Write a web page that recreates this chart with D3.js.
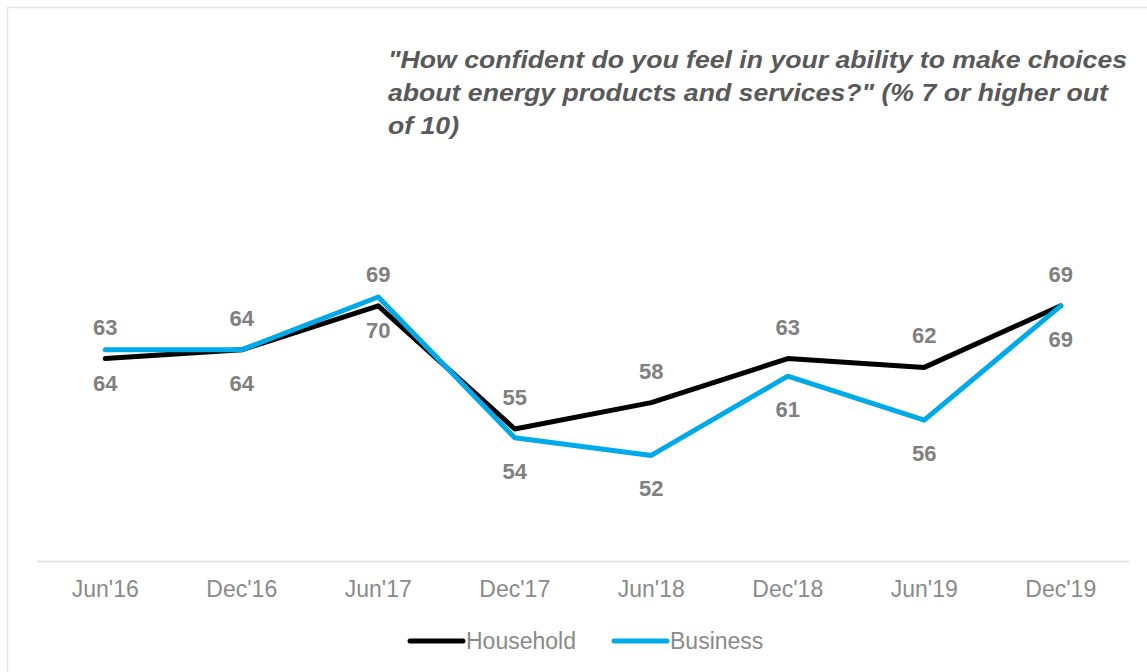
<!DOCTYPE html>
<html>
<head>
<meta charset="utf-8">
<script src="https://cdn.jsdelivr.net/npm/d3@7"></script>
<style>
  html, body { margin: 0; padding: 0; background: #fff; }
  svg { display: block; font-family: "Liberation Sans", Arial, sans-serif; }
</style>
</head>
<body>
<svg id="chart" width="1147" height="672"></svg>
<script>
// Survey waves
const periods = ["Jun'16", "Dec'16", "Jun'17", "Dec'17", "Jun'18", "Dec'18", "Jun'19", "Dec'19"];
// % rating 7 or higher out of 10
const household = [63, 64, 69, 55, 58, 63, 62, 69];
const business  = [64, 64, 70, 54, 52, 61, 56, 69];
const seriesNames = ["Household", "Business"];
const seriesColors = ["#000000", "#00a9e8"];
const titleLines = [
  "\"How confident do you feel in your ability to make choices",
  "about energy products and services?\" (% 7 or higher out",
  "of 10)"
];

const svg = d3.select("#chart");

// outer frame
svg.append("rect")
  .attr("x", 7.5).attr("y", 7.5)
  .attr("width", 1160).attr("height", 700)
  .attr("fill", "none").attr("stroke", "#e3e3e3").attr("stroke-width", 1.5);

const x = d3.scaleBand().domain(periods).range([37, 1129]);
const y = d3.scaleLinear().domain([40, 80]).range([561, 209]);

// title (wide bold italic face)
const title = svg.append("text")
  .attr("transform", "translate(388,68) scale(1.158,1)")
  .attr("fill", "#595959")
  .attr("font-size", 23).attr("font-weight", "bold").attr("font-style", "italic");
titleLines.forEach((t, i) => {
  title.append("tspan").attr("x", 0).attr("dy", i === 0 ? 0 : 33).text(t);
});

// category axis
const xAxis = svg.append("g")
  .attr("transform", `translate(0,${y(40)})`)
  .call(d3.axisBottom(x).tickSize(0).tickPadding(20));
xAxis.select(".domain").attr("stroke", "#dcdcdc").attr("stroke-width", 1.5);
xAxis.selectAll("text")
  .attr("fill", "#8a8a8a").attr("font-size", 23)
  .attr("font-family", "Liberation Sans, Arial, sans-serif");

const cx = d => x(d) + x.bandwidth() / 2;
const line = d3.line().x((d, i) => cx(periods[i])).y(d => y(d));

const data = [household, business];
data.forEach((vals, s) => {
  svg.append("path")
    .datum(vals)
    .attr("d", line)
    .attr("fill", "none")
    .attr("stroke", seriesColors[s])
    .attr("stroke-width", 5)
    .attr("stroke-linejoin", "round")
    .attr("stroke-linecap", "round");
});

// value labels: household above, business below
data.forEach((vals, s) => {
  svg.append("g").selectAll("text")
    .data(vals)
    .join("text")
    .attr("x", (d, i) => cx(periods[i]))
    .attr("y", d => s === 0 ? y(d) - 32 : y(d) + 33)
    .attr("dy", "0.36em")
    .attr("text-anchor", "middle")
    .attr("fill", "#808080")
    .attr("font-size", 22).attr("font-weight", "bold")
    .text(d => d);
});

// legend
const legendItems = [
  { name: seriesNames[0], color: seriesColors[0], x: 410 },
  { name: seriesNames[1], color: seriesColors[1], x: 614 }
];
const lg = svg.append("g");
legendItems.forEach(it => {
  lg.append("line")
    .attr("x1", it.x).attr("x2", it.x + 53)
    .attr("y1", 641).attr("y2", 641)
    .attr("stroke", it.color).attr("stroke-width", 5).attr("stroke-linecap", "round");
  lg.append("text")
    .attr("x", it.x + 56).attr("y", 641).attr("dy", "0.36em")
    .attr("fill", "#8a8a8a").attr("font-size", 23)
    .text(it.name);
});
</script>
</body>
</html>
